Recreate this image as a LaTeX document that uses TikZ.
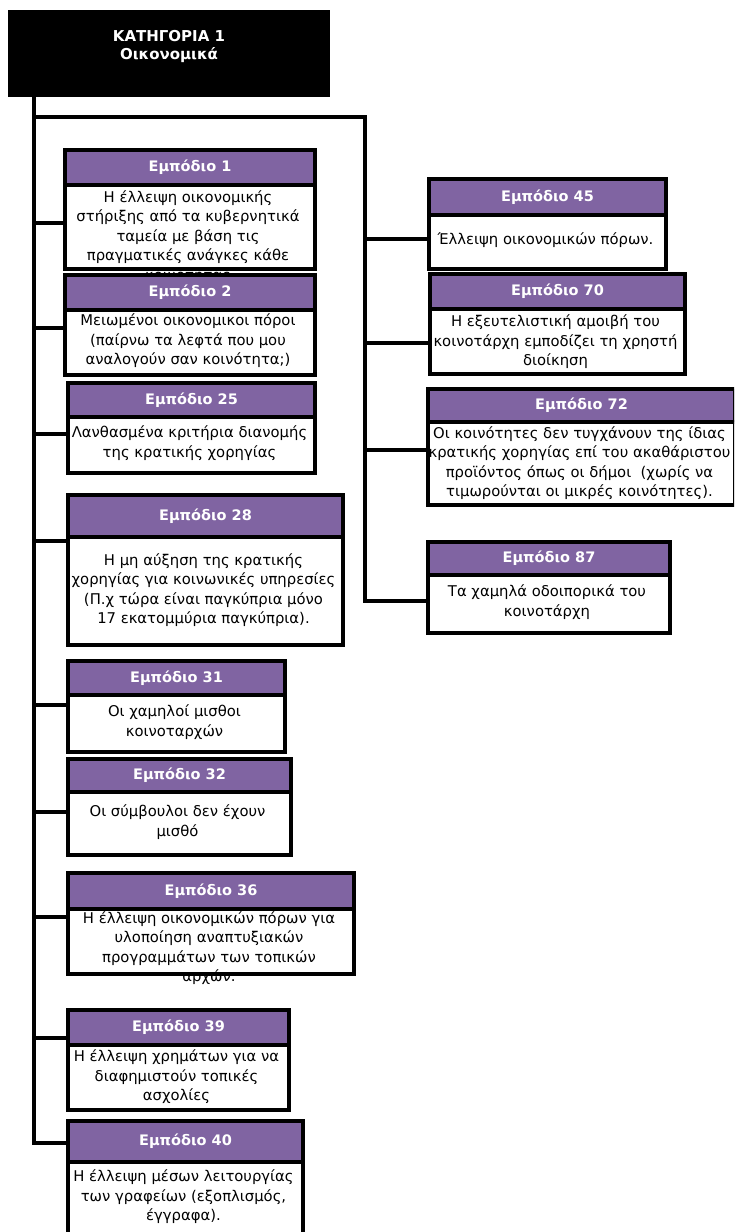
\documentclass[tikz,border=0pt]{standalone}
\usepackage{fontspec}
\setmainfont{DejaVu Sans}
\usetikzlibrary{positioning}
\definecolor{hdrpurple}{RGB}{128,100,162}

\begin{document}
\begin{tikzpicture}[x=1pt,y=-1pt,
    hdr/.style={draw, line width=4pt, fill=hdrpurple, text=white, anchor=north west, inner sep=0pt,
        font=\fontsize{14.5}{16}\selectfont\bfseries},
    body/.style={draw, line width=4pt, fill=white, anchor=north west, inner sep=0pt},
    txt/.style={align=center, inner sep=0pt, font=\fontsize{14.8}{19.5}\selectfont},
    conn/.style={line width=3.5pt, line join=miter}]
    \clip (0,0) rectangle (734,1232);

    % category box
    \node[fill=black, anchor=north west, minimum width=322, minimum height=87, inner sep=0pt] (cat) at (8,10) {};
    \node[align=center, text=white, font=\fontsize{15}{18}\selectfont\bfseries] (cattxt) at (169,46) {ΚΑΤΗΓΟΡΙΑ 1\\Οικονομικά};

    % trunk points
    \coordinate (tl) at (34,117);
    \coordinate (tr) at (365,117);
    \coordinate (j1) at (34,223);
    \coordinate (j2) at (34,328);
    \coordinate (j25) at (34,434);
    \coordinate (j28) at (34,541);
    \coordinate (j31) at (34,705);
    \coordinate (j32) at (34,812);
    \coordinate (j36) at (34,917);
    \coordinate (j39) at (34,1038);
    \coordinate (j40) at (34,1143);
    \coordinate (j45) at (365,239);
    \coordinate (j70) at (365,343);
    \coordinate (j72) at (365,450);
    \coordinate (j87) at (365,601);

    % obstacle 1
    \node[hdr, minimum width=250, minimum height=35] (h1) at (63,148) {Εμπόδιο 1};
    \node[body, minimum width=250, minimum height=84] (b1) at (63,183) {};
    \node[txt] (t1) at (188,237) {Η έλλειψη οικονομικής\\στήριξης από τα κυβερνητικά\\ταμεία με βάση τις\\πραγματικές ανάγκες κάθε\\κοινότητας};

    % obstacle 2
    \node[hdr, minimum width=250, minimum height=35] (h2) at (63,273) {Εμπόδιο 2};
    \node[body, minimum width=250, minimum height=65] (b2) at (63,308) {};
    \node[txt] (t2) at (188,341) {Μειωμένοι οικονομικοι πόροι\\(παίρνω τα λεφτά που μου\\αναλογούν σαν κοινότητα;)};

    % obstacle 25
    \node[hdr, minimum width=247, minimum height=34] (h25) at (66,381) {Εμπόδιο 25};
    \node[body, minimum width=247, minimum height=56] (b25) at (66,415) {};
    \node[txt] (t25) at (189.5,443) {Λανθασμένα κριτήρια διανομής\\της κρατικής χορηγίας};

    % obstacle 28
    \node[hdr, minimum width=275, minimum height=42] (h28) at (66,493) {Εμπόδιο 28};
    \node[body, minimum width=275, minimum height=108] (b28) at (66,535) {};
    \node[txt] (t28) at (203.5,590) {Η μη αύξηση της κρατικής\\χορηγίας για κοινωνικές υπηρεσίες\\(Π.χ τώρα είναι παγκύπρια μόνο\\17 εκατομμύρια παγκύπρια).};

    % obstacle 31
    \node[hdr, minimum width=217, minimum height=34] (h31) at (66,659) {Εμπόδιο 31};
    \node[body, minimum width=217, minimum height=57] (b31) at (66,693) {};
    \node[txt] (t31) at (174.5,722) {Οι χαμηλοί μισθοι\\κοινοταρχών};

    % obstacle 32
    \node[hdr, minimum width=223, minimum height=33] (h32) at (66,757) {Εμπόδιο 32};
    \node[body, minimum width=223, minimum height=63] (b32) at (66,790) {};
    \node[txt] (t32) at (177.5,822) {Οι σύμβουλοι δεν έχουν\\μισθό};

    % obstacle 36
    \node[hdr, minimum width=286, minimum height=36] (h36) at (66,871) {Εμπόδιο 36};
    \node[body, minimum width=286, minimum height=65] (b36) at (66,907) {};
    \node[txt] (t36) at (209,948) {Η έλλειψη οικονομικών πόρων για\\υλοποίηση αναπτυξιακών\\προγραμμάτων των τοπικών\\αρχών.};

    % obstacle 39
    \node[hdr, minimum width=221, minimum height=35] (h39) at (66,1008) {Εμπόδιο 39};
    \node[body, minimum width=221, minimum height=65] (b39) at (66,1043) {};
    \node[txt] (t39) at (176.5,1077) {Η έλλειψη χρημάτων για να\\διαφημιστούν τοπικές\\ασχολίες};

    % obstacle 40
    \node[hdr, minimum width=235, minimum height=41] (h40) at (66,1119) {Εμπόδιο 40};
    \node[body, minimum width=235, minimum height=85] (b40) at (66,1160) {};
    \node[txt] (t40) at (183.5,1197) {Η έλλειψη μέσων λειτουργίας\\των γραφείων (εξοπλισμός,\\έγγραφα).};

    % obstacle 45
    \node[hdr, minimum width=237, minimum height=36] (h45) at (427,177) {Εμπόδιο 45};
    \node[body, minimum width=237, minimum height=54] (b45) at (427,213) {};
    \node[txt] (t45) at (545.5,240) {Έλλειψη οικονομικών πόρων.};

    % obstacle 70
    \node[hdr, minimum width=255, minimum height=35] (h70) at (428,272) {Εμπόδιο 70};
    \node[body, minimum width=255, minimum height=65] (b70) at (428,307) {};
    \node[txt] (t70) at (555.5,342) {Η εξευτελιστική αμοιβή του\\κοινοτάρχη εμποδίζει τη χρηστή\\διοίκηση};

    % obstacle 72
    \node[hdr, minimum width=307, minimum height=33] (h72) at (426,387) {Εμπόδιο 72};
    \node[body, minimum width=307, minimum height=83] (b72) at (426,420) {};
    \node[txt] (t72) at (579.5,463) {Οι κοινότητες δεν τυγχάνουν της ίδιας\\κρατικής χορηγίας επί του ακαθάριστου\\προϊόντος όπως οι δήμοι\ \ (χωρίς να\\τιμωρούνται οι μικρές κοινότητες).};

    % obstacle 87
    \node[hdr, minimum width=242, minimum height=33] (h87) at (426,540) {Εμπόδιο 87};
    \node[body, minimum width=242, minimum height=58] (b87) at (426,573) {};
    \node[txt] (t87) at (547,602) {Τα χαμηλά οδοιπορικά του\\κοινοτάρχη};

    % trunks
    \draw[conn] (cat.south -| tl) -- (j40) -- (j40 -| b40.west);
    \draw[conn] (tl) -- (tr) -- (j87) -- (j87 -| b87.west);

    % branches, left
    \draw[conn] (j1) -- (j1 -| b1.west);
    \draw[conn] (j2) -- (j2 -| b2.west);
    \draw[conn] (j25) -- (j25 -| b25.west);
    \draw[conn] (j28) -- (j28 -| b28.west);
    \draw[conn] (j31) -- (j31 -| b31.west);
    \draw[conn] (j32) -- (j32 -| b32.west);
    \draw[conn] (j36) -- (j36 -| b36.west);
    \draw[conn] (j39) -- (j39 -| h39.west);

    % branches, right
    \draw[conn] (j45) -- (j45 -| b45.west);
    \draw[conn] (j70) -- (j70 -| b70.west);
    \draw[conn] (j72) -- (j72 -| b72.west);
\end{tikzpicture}
\end{document}
